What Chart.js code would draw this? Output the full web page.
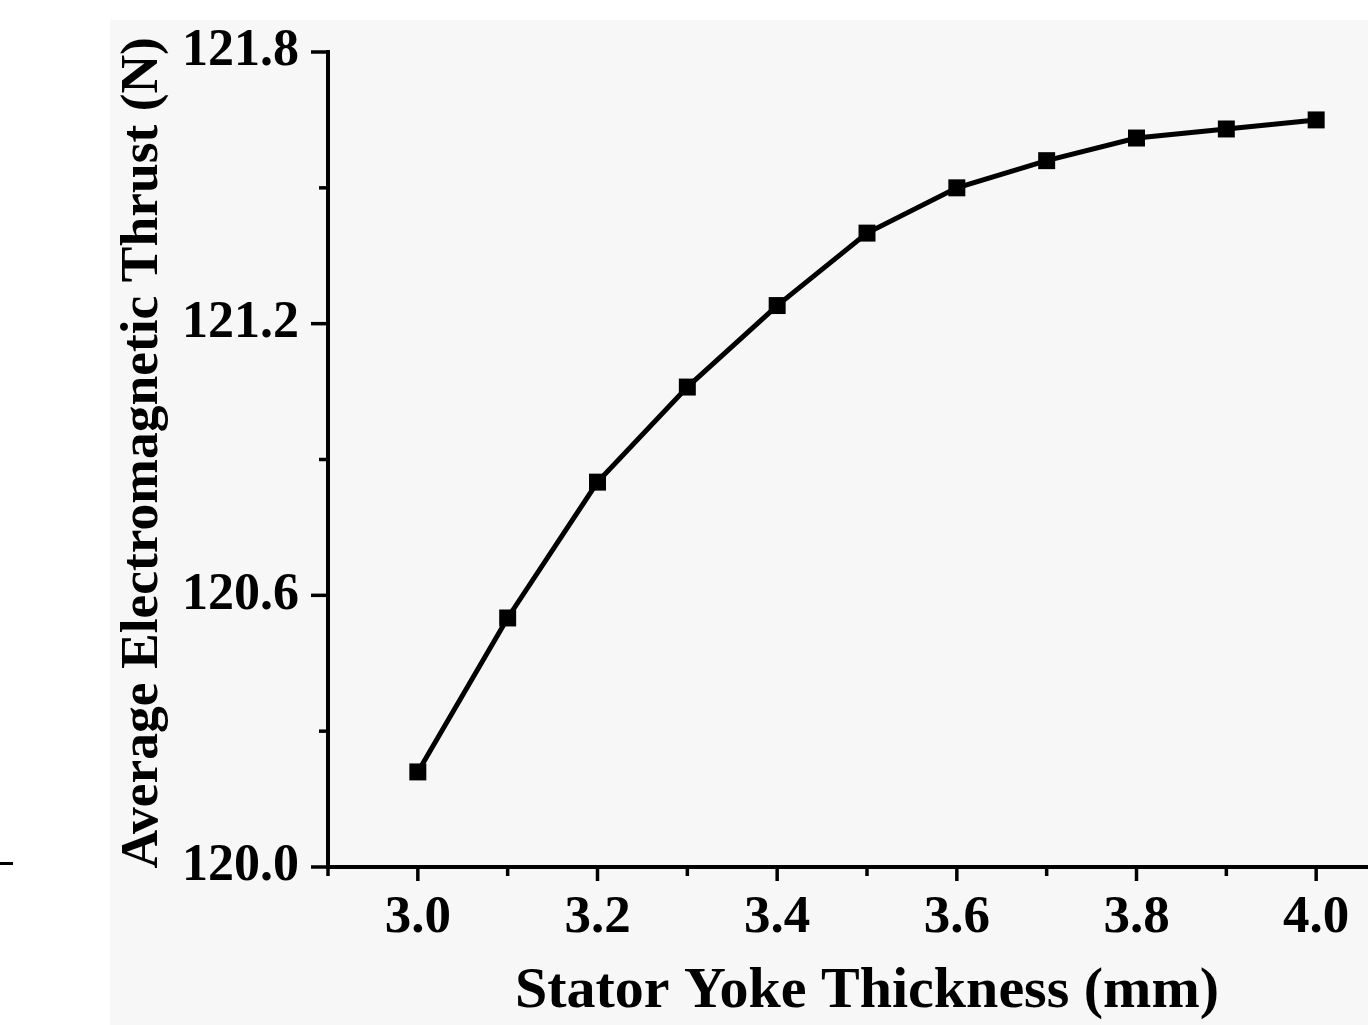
<!DOCTYPE html>
<html>
<head>
<meta charset="utf-8">
<script src="https://cdn.jsdelivr.net/npm/chart.js@4/dist/chart.umd.min.js"></script>
<style>
  html, body { margin: 0; padding: 0; background: #ffffff; overflow: hidden; width: 1368px; height: 1025px; }
  #bg { position: absolute; left: 110px; top: 20px; width: 1258px; height: 1005px; background: #f7f7f7; }
  #mark { position: absolute; left: 0; top: 862px; width: 13px; height: 3px; background: #000; }
  #wrap { position: absolute; left: 0; top: 0; width: 1420px; height: 1030px; }
</style>
</head>
<body>
<div id="bg"></div>
<div id="mark"></div>
<div id="wrap"><canvas id="c" width="1420" height="1030"></canvas></div>
<script>
const thickness = [3.0, 3.1, 3.2, 3.3, 3.4, 3.5, 3.6, 3.7, 3.8, 3.9, 4.0];
const thrust = [120.21, 120.55, 120.85, 121.06, 121.24, 121.40, 121.50, 121.56, 121.61, 121.63, 121.65];
const xMajorTicks = [3.0, 3.2, 3.4, 3.6, 3.8, 4.0];
const xMinorTicks = [2.9, 3.1, 3.3, 3.5, 3.7, 3.9, 4.1];
const yMajorTicks = [120.0, 120.6, 121.2, 121.8];
const yMinorTicks = [120.3, 120.9, 121.5];
const xTitle = 'Stator Yoke Thickness (mm)';
const yTitle = ' Average Electromagnetic Thrust (N)';

const FONT = "'Liberation Serif', 'Times New Roman', serif";

const tickPlugin = {
  id: 'ticks',
  afterDraw(chart) {
    const ctx = chart.ctx;
    const xs = chart.scales.x, ys = chart.scales.y;
    const ca = chart.chartArea;
    ctx.save();
    ctx.strokeStyle = '#000';
    ctx.lineWidth = 3.5;
    ctx.lineCap = 'butt';
    yMajorTicks.forEach(v => {
      const p = ys.getPixelForValue(v);
      ctx.beginPath(); ctx.moveTo(ca.left - 17, p); ctx.lineTo(ca.left, p); ctx.stroke();
    });
    yMinorTicks.forEach(v => {
      const p = ys.getPixelForValue(v);
      ctx.beginPath(); ctx.moveTo(ca.left - 9, p); ctx.lineTo(ca.left, p); ctx.stroke();
    });
    xMajorTicks.forEach(v => {
      const p = xs.getPixelForValue(v);
      ctx.beginPath(); ctx.moveTo(p, ca.bottom); ctx.lineTo(p, ca.bottom + 14); ctx.stroke();
    });
    xMinorTicks.forEach(v => {
      const p = xs.getPixelForValue(v);
      ctx.beginPath(); ctx.moveTo(p, ca.bottom); ctx.lineTo(p, ca.bottom + 9); ctx.stroke();
    });
    ctx.restore();
  }
};

new Chart(document.getElementById('c'), {
  type: 'line',
  data: {
    datasets: [{
      data: thickness.map((x, i) => ({ x: x, y: thrust[i] })),
      borderColor: '#000',
      backgroundColor: '#000',
      borderWidth: 5,
      tension: 0,
      pointStyle: 'rect',
      pointRadius: 12,
      pointBorderWidth: 0,
      pointBackgroundColor: '#000',
      fill: false
    }]
  },
  options: {
    responsive: false,
    animation: false,
    devicePixelRatio: 1,
    layout: { padding: { top: 52, right: 14, left: 0, bottom: 0 } },
    plugins: { legend: { display: false }, tooltip: { enabled: false } },
    scales: {
      x: {
        type: 'linear',
        min: 2.9,
        max: 4.1,
        afterBuildTicks: s => { s.ticks = xMajorTicks.map(v => ({ value: v })); },
        afterFit: s => { s.height = 163; s.paddingLeft = 0; s.paddingRight = 0; },
        grid: { display: false, drawTicks: false },
        border: { display: true, color: '#000', width: 4 },
        ticks: {
          padding: 20,
          color: '#000',
          font: { family: FONT, size: 53, weight: 'bold' },
          callback: v => Number(v).toFixed(1),
          maxRotation: 0,
          autoSkip: false
        },
        title: {
          display: true,
          text: xTitle,
          color: '#000',
          font: { family: FONT, size: 58, weight: 'bold' },
          padding: { top: 0, bottom: 3 }
        }
      },
      y: {
        type: 'linear',
        min: 120.0,
        max: 121.8,
        afterBuildTicks: s => { s.ticks = yMajorTicks.map(v => ({ value: v })); },
        afterFit: s => { s.width = 328; s.paddingTop = 0; s.paddingBottom = 0; },
        grid: { display: false, drawTicks: false },
        border: { display: true, color: '#000', width: 4 },
        ticks: {
          padding: 29,
          color: '#000',
          font: { family: FONT, size: 52, weight: 'bold' },
          callback: v => Number(v).toFixed(1),
          autoSkip: false
        },
        title: {
          display: true,
          text: yTitle,
          color: '#000',
          font: { family: FONT, size: 53.5, weight: 'bold' },
          padding: { top: 111, bottom: 0 }
        }
      }
    }
  },
  plugins: [tickPlugin]
});
</script>
</body>
</html>
